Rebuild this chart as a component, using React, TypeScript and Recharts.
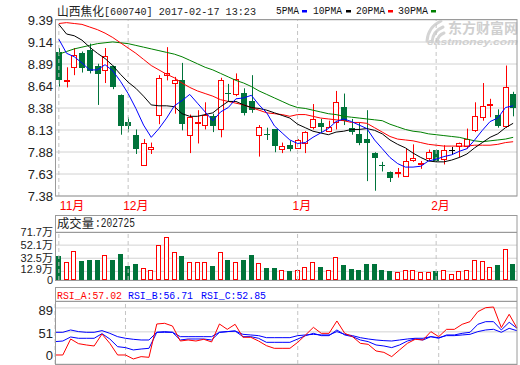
import React from 'react';
import {
  ComposedChart,
  BarChart,
  LineChart,
  Bar,
  Line,
  XAxis,
  YAxis,
  CartesianGrid,
  ReferenceLine,
} from 'recharts';

const RED = '#ff0000';
const GREEN = '#00733a';
const BLUE = '#0000ff';
const GRID = '#d2d2d2';
const FRAME = '#9a9a9a';
const DASH = '#c4c4c4';

// trading days, 2016-11-18 .. 2017-02-17
const dates = [
  '11-18', '11-21', '11-22', '11-23', '11-24', '11-25', '11-28', '11-29', '11-30',
  '12-01', '12-02', '12-05', '12-06', '12-07', '12-08', '12-09', '12-12', '12-13', '12-14', '12-15',
  '12-16', '12-19', '12-20', '12-21', '12-22', '12-23', '12-26', '12-27', '12-28', '12-29', '12-30',
  '01-03', '01-04', '01-05', '01-06', '01-09', '01-10', '01-11', '01-12', '01-13', '01-16', '01-17',
  '01-18', '01-19', '01-20', '01-23', '01-24', '01-25', '01-26',
  '02-03', '02-06', '02-07', '02-08', '02-09', '02-10', '02-13', '02-14', '02-15', '02-16', '02-17',
];

const open = [
  9.02, 8.69, 8.85, 9.01, 9.05, 8.87, 8.82, 8.86, 8.53, 8.22,
  8.08, 7.73, 7.92, 8.31, 8.76, 8.67, 8.70, 8.08, 8.22, 8.19,
  8.29, 8.14, 8.56, 8.55, 8.56, 8.47, 8.08, 8.09, 8.14, 7.92,
  7.96, 7.93, 7.98, 8.17, 8.21, 8.12, 8.23, 8.40, 8.16, 8.09,
  8.03, 7.87, 7.73, 7.65, 7.64, 7.61, 7.79, 7.75, 7.81, 7.90,
  7.80, 7.91, 7.95, 7.95, 8.13, 8.28, 8.42, 8.31, 8.18, 8.55,
];
const close = [
  8.71, 8.71, 8.99, 8.84, 8.81, 8.77, 8.98, 8.63, 8.18, 8.18,
  7.92, 7.98, 7.94, 8.73, 8.78, 8.70, 8.20, 8.28, 8.23, 8.31,
  8.18, 8.70, 8.54, 8.72, 8.33, 8.36, 8.17, 8.08, 7.95, 7.95,
  7.92, 8.02, 8.11, 8.26, 8.17, 8.17, 8.45, 8.24, 8.11, 7.98,
  7.98, 7.81, 7.72, 7.59, 7.65, 7.78, 7.81, 7.76, 7.88, 7.78,
  7.90, 7.91, 7.99, 8.03, 8.29, 8.41, 8.43, 8.18, 8.63, 8.38,
];
const high = [
  9.07, 8.85, 9.07, 9.03, 9.12, 8.89, 9.07, 8.87, 8.54, 8.28,
  8.14, 8.03, 7.99, 8.76, 9.08, 8.74, 8.90, 8.31, 8.36, 8.45,
  8.32, 8.73, 8.66, 8.78, 8.61, 8.76, 8.19, 8.16, 8.14, 7.99,
  8.01, 8.03, 8.12, 8.43, 8.26, 8.24, 8.58, 8.55, 8.26, 8.22,
  8.36, 7.88, 7.77, 7.66, 7.70, 7.92, 7.97, 7.78, 7.91, 7.91,
  7.96, 7.94, 7.99, 8.15, 8.45, 8.67, 8.49, 8.37, 8.87, 8.57,
];
const low = [
  8.63, 8.62, 8.76, 8.79, 8.78, 8.42, 8.67, 8.60, 8.08, 8.11,
  7.86, 7.73, 7.86, 8.20, 8.70, 8.32, 8.13, 7.87, 7.98, 8.14,
  8.11, 8.05, 8.46, 8.52, 8.30, 8.33, 7.83, 8.02, 7.88, 7.87,
  7.89, 7.92, 7.87, 8.14, 8.11, 8.12, 8.14, 8.19, 8.08, 7.96,
  7.55, 7.44, 7.66, 7.54, 7.59, 7.61, 7.77, 7.69, 7.78, 7.77,
  7.74, 7.85, 7.82, 7.92, 8.11, 8.24, 8.28, 8.16, 8.16, 8.29,
];

const ma5 = [
  9.17, 9.01, 8.97, 8.90, 8.82, 8.82, 8.88, 8.81, 8.69, 8.55,
  8.38, 8.19, 8.05, 8.15, 8.27, 8.41, 8.47, 8.54, 8.44, 8.34,
  8.24, 8.34, 8.39, 8.49, 8.50, 8.53, 8.42, 8.33, 8.18, 8.10,
  8.02, 7.98, 7.99, 8.05, 8.10, 8.15, 8.23, 8.26, 8.23, 8.19,
  8.15, 8.02, 7.92, 7.82, 7.75, 7.71, 7.71, 7.72, 7.78, 7.80,
  7.83, 7.85, 7.89, 7.92, 8.02, 8.13, 8.23, 8.27, 8.39, 8.41,
];
const ma10 = [
  9.34, 9.23, 9.21, 9.16, 9.08, 9.01, 8.95, 8.87, 8.77, 8.68,
  8.61, 8.52, 8.42, 8.41, 8.41, 8.40, 8.32, 8.29, 8.29, 8.31,
  8.33, 8.40, 8.46, 8.46, 8.42, 8.39, 8.38, 8.36, 8.33, 8.30,
  8.27, 8.20, 8.16, 8.12, 8.10, 8.08, 8.11, 8.12, 8.14, 8.14,
  8.15, 8.13, 8.09, 8.02, 7.97, 7.93, 7.87, 7.82, 7.78, 7.77,
  7.77, 7.79, 7.82, 7.86, 7.93, 7.99, 8.05, 8.09, 8.16, 8.21,
];
const ma20 = [
  9.35, 9.36, 9.35, 9.34, 9.31, 9.28, 9.24, 9.19, 9.13, 9.07,
  9.01, 8.94, 8.87, 8.82, 8.77, 8.73, 8.67, 8.62, 8.58, 8.55,
  8.52, 8.48, 8.46, 8.44, 8.42, 8.39, 8.36, 8.33, 8.32, 8.31,
  8.29, 8.31, 8.31, 8.29, 8.27, 8.26, 8.25, 8.24, 8.22, 8.22,
  8.21, 8.16, 8.11, 8.06, 8.03, 8.02, 8.01, 7.99, 7.97, 7.96,
  7.95, 7.95, 7.95, 7.95, 7.96, 7.96, 7.96, 7.97, 7.99, 8.00,
];
const ma30 = [
  9.00, 9.03, 9.06, 9.08, 9.10, 9.12, 9.13, 9.14, 9.13, 9.12,
  9.10, 9.08, 9.06, 9.04, 9.02, 9.00, 8.97, 8.93, 8.89, 8.85,
  8.82, 8.78, 8.74, 8.70, 8.67, 8.63, 8.58, 8.54, 8.50, 8.46,
  8.42, 8.39, 8.38, 8.36, 8.34, 8.32, 8.31, 8.29, 8.28, 8.27,
  8.26, 8.25, 8.24, 8.20, 8.17, 8.14, 8.12, 8.11, 8.09, 8.08,
  8.07, 8.06, 8.05, 8.03, 8.01, 8.00, 8.01, 8.02, 8.03, 8.05,
];

// volume in 万
const volume = [
  35.6, 27.6, 42.7, 28.1, 29.6, 29.6, 36.7, 29.6, 38.6, 20.6,
  23.6, 18.6, 15.6, 52.2, 63.8, 41.2, 35.6, 27.6, 26.6, 26.6,
  20.6, 41.2, 29.6, 27.6, 29.6, 37.1, 25.1, 17.6, 17.6, 15.6,
  13.1, 14.6, 20.1, 27.6, 19.1, 15.6, 33.7, 22.1, 16.1, 14.6,
  23.6, 23.6, 14.6, 13.1, 12.6, 15.6, 15.6, 11.6, 12.6, 13.1,
  15.6, 9.6, 14.1, 15.6, 30.6, 29.1, 20.1, 22.1, 45.7, 23.6,
];

const rsiA = [
  14.3, 14.3, 39.7, 32.3, 30.2, 28.6, 47.6, 32.8, 14.3, 14.3,
  8.0, 11.7, 10.6, 63.5, 64.6, 60.3, 36.5, 38.1, 36.5, 39.2,
  35.0, 63.5, 55.0, 63.0, 42.4, 42.4, 36.5, 29.1, 24.9, 24.9,
  24.9, 34.4, 46.1, 58.2, 48.7, 48.7, 68.3, 48.7, 43.4, 32.8,
  31.2, 20.7, 18.5, 11.7, 22.3, 32.8, 39.2, 38.1, 51.4, 43.4,
  55.0, 55.0, 63.0, 67.2, 83.1, 89.4, 90.5, 57.7, 78.9, 57.02,
];
const rsiB = [
  35.5, 36.5, 42.9, 40.8, 40.8, 40.8, 48.2, 39.7, 27.5, 26.0,
  22.3, 23.8, 24.9, 50.3, 50.3, 50.3, 38.1, 39.7, 39.7, 39.7,
  38.1, 50.3, 51.4, 52.4, 43.4, 43.4, 40.8, 34.4, 34.4, 34.4,
  34.4, 39.7, 45.0, 48.7, 45.0, 45.0, 54.0, 46.1, 43.4, 38.1,
  35.5, 30.2, 28.6, 26.0, 30.2, 36.5, 39.7, 38.1, 43.4, 40.8,
  46.1, 46.1, 48.7, 50.3, 63.0, 67.2, 67.2, 54.0, 66.2, 56.71,
];
const rsiC = [
  50.3, 50.3, 54.0, 51.4, 50.3, 50.3, 53.0, 48.7, 43.4, 40.8,
  39.2, 38.1, 38.1, 50.3, 51.4, 50.3, 43.4, 43.4, 43.4, 43.4,
  43.4, 50.3, 51.4, 52.4, 47.1, 46.1, 45.0, 41.8, 41.8, 41.8,
  41.8, 45.0, 46.1, 47.1, 46.1, 46.1, 51.4, 47.1, 45.0, 41.8,
  39.7, 38.1, 37.1, 36.5, 38.1, 39.7, 40.8, 40.8, 43.4, 41.8,
  45.0, 45.0, 46.1, 47.1, 51.4, 54.0, 55.1, 50.3, 56.6, 52.85,
];

const monthStarts = ['11-18', '12-01', '01-03', '02-03'];
const monthLabels = ['11月', '12月', '1月', '2月'];

const priceTickLabels = ['7.38', '7.63', '7.88', '8.13', '8.38', '8.64', '8.89', '9.14', '9.39'];
const priceMin = 7.38;
const priceMax = 9.39;
const priceStep = (priceMax - priceMin) / (priceTickLabels.length - 1);
const priceTicks = priceTickLabels.map((_, i) => priceMin + i * priceStep);

const volTicks = [0, 12.9, 32.5, 52.1, 71.7];
const rsiTicks = [0, 51, 89];

const rows = dates.map((d, i) => ({
  d,
  o: open[i],
  h: high[i],
  l: low[i],
  c: close[i],
  ma5: ma5[i],
  ma10: ma10[i],
  ma20: ma20[i],
  ma30: ma30[i],
  v: volume[i],
  ra: rsiA[i],
  rb: rsiB[i],
  rc: rsiC[i],
}));

const Candle = (props: any) => {
  const { x, y, width, height, payload } = props;
  if (x == null || y == null || !payload) return null;
  const { o, h, l, c } = payload;
  const top = Math.min(y, y + height);
  const span = Math.abs(height);
  const py = (v: number) => (h === l ? top : top + ((h - v) / (h - l)) * span);
  const cx = Math.round(x + width / 2);
  const bt = Math.round(py(Math.max(o, c)));
  const bb = Math.round(py(Math.min(o, c)));
  const yh = py(h);
  const yl = py(l);
  const wx = cx + 0.5;
  if (c > o) {
    return (
      <g>
        <line x1={wx} x2={wx} y1={yh} y2={bt} stroke={RED} />
        <line x1={wx} x2={wx} y1={bb} y2={yl} stroke={RED} />
        <rect x={cx - 2.5} y={bt + 0.5} width={5} height={Math.max(bb - bt, 1)} fill="#fff" stroke={RED} />
      </g>
    );
  }
  if (c < o) {
    return (
      <g>
        <line x1={wx} x2={wx} y1={yh} y2={yl} stroke={GREEN} />
        <rect x={cx - 3} y={bt} width={6} height={Math.max(bb - bt, 1)} fill={GREEN} />
      </g>
    );
  }
  return (
    <g>
      <line x1={wx} x2={wx} y1={yh} y2={yl} stroke="#000" />
      <line x1={cx - 3} x2={cx + 3} y1={bt + 0.5} y2={bt + 0.5} stroke="#000" />
    </g>
  );
};

const VolBar = (props: any) => {
  const { x, y, width, height, payload } = props;
  if (x == null || y == null || !payload) return null;
  const left = Math.round(x);
  const t = Math.round(Math.min(y, y + height));
  const b = Math.round(Math.max(y, y + height));
  if (payload.c >= payload.o) {
    return <rect x={left + 0.5} y={t + 0.5} width={width - 1} height={Math.max(b - t - 1, 1)} fill="#fff" stroke={RED} />;
  }
  return <rect x={left} y={t} width={width} height={b - t} fill={GREEN} />;
};

const MonthTick = (props: any) => {
  const { x, y, payload } = props;
  const idx = monthStarts.indexOf(payload.value);
  if (idx < 0) return null;
  return (
    <text
      x={idx === 0 ? x + 1 : x - 5}
      y={y + 14}
      fill={RED}
      fontSize={12}
      fontFamily="Liberation Sans, Noto Sans CJK SC, sans-serif"
      textAnchor="start"
    >
      {monthLabels[idx]}
    </text>
  );
};

const VolTick = (props: any) => {
  const { x, y, payload } = props;
  const v = payload.value;
  const shift = v === 12.9 ? -2 : v === 32.5 ? -0.5 : 0;
  return (
    <text
      x={x}
      y={y + shift}
      dy="0.355em"
      fill="#222"
      fontSize={11}
      fontFamily="Liberation Sans, Noto Sans CJK SC, sans-serif"
      textAnchor="end"
    >
      {v === 0 ? '0' : `${v}万`}
    </text>
  );
};

const RsiTick = (props: any) => {
  const { x, y, payload } = props;
  return (
    <text
      x={x}
      y={y + (payload.value === 0 ? -9 : 2)}
      dy="0.355em"
      fill="#222"
      fontSize={13}
      fontFamily="Liberation Sans, Arial, sans-serif"
      textAnchor="end"
    >
      {payload.value}
    </text>
  );
};

const axisFont = { fontSize: 13, fill: '#222', fontFamily: 'Liberation Sans, Arial, sans-serif' };
const monoFont = 'Liberation Mono, DejaVu Sans Mono, monospace';
const cjkFont = 'Noto Sans CJK SC, sans-serif';

const monthLines = monthStarts.map((m) => (
  <ReferenceLine key={m} x={m} stroke={DASH} strokeDasharray="4 3" />
));

const App = () => {
  return (
    <div style={{ position: 'absolute', left: 0, top: 0, width: 520, height: 365, background: '#fff', overflow: 'hidden' }}>
      {/* watermark */}
      <svg width={520} height={365} style={{ position: 'absolute', left: 0, top: 0 }}>
        <g stroke="#d4d4d4" strokeWidth={3} fill="none" strokeLinecap="round">
          <path d="M427 41 Q428 27 441 21" />
          <path d="M432 42 Q433 31 443 27" />
          <path d="M437 42 Q438 35 444 33" />
        </g>
        <text x={448} y={33} fontSize={14} fontWeight="bold" fill="#cfcfcf" fontFamily={cjkFont} textLength={70} lengthAdjust="spacingAndGlyphs">
          东方财富网
        </text>
        <text x={427} y={45} fontSize={9} fontWeight="bold" fontStyle="italic" fill="#cfcfcf" fontFamily="Liberation Sans, sans-serif" textLength={91} lengthAdjust="spacingAndGlyphs">
          eastmoney.com
        </text>
      </svg>

      {/* price */}
      <div style={{ position: 'absolute', left: 0, top: 0 }}>
        <ComposedChart width={520} height={215} data={rows} margin={{ top: 20, right: 3, bottom: 0, left: 0 }} barCategoryGap={0}>
          <CartesianGrid stroke={GRID} vertical={false} />
          <XAxis dataKey="d" ticks={monthStarts} interval={0} tick={MonthTick} tickLine={false} axisLine={false} height={19} tickSize={0} tickMargin={0} />
          <YAxis
            domain={[priceMin, priceMax]}
            ticks={priceTicks}
            interval={0}
            allowDataOverflow
            width={55}
            tickLine={false}
            axisLine={false}
            tickSize={0}
            tickMargin={2}
            tick={axisFont}
            tickFormatter={(v: number) => priceTickLabels[Math.round((v - priceMin) / priceStep)]}
          />
          {monthLines}
          <Bar dataKey={(r: any) => [r.l, r.h]} barSize={6} shape={Candle} isAnimationActive={false} />
          <Line dataKey="ma30" stroke="#008000" strokeWidth={1} dot={false} isAnimationActive={false} />
          <Line dataKey="ma20" stroke={RED} strokeWidth={1} dot={false} isAnimationActive={false} />
          <Line dataKey="ma10" stroke="#000" strokeWidth={1} dot={false} isAnimationActive={false} />
          <Line dataKey="ma5" stroke={BLUE} strokeWidth={1} dot={false} isAnimationActive={false} />
        </ComposedChart>
      </div>

      {/* volume */}
      <div style={{ position: 'absolute', left: 0, top: 215 }}>
        <BarChart width={520} height={72} data={rows} margin={{ top: 17, right: 3, bottom: 7, left: 0 }} barCategoryGap={0}>
          <CartesianGrid stroke={GRID} vertical={false} />
          <XAxis dataKey="d" hide />
          <YAxis domain={[0, 71.7]} ticks={volTicks} interval={0} width={55} tickLine={false} axisLine={false} tickSize={0} tickMargin={2} tick={VolTick} />
          {monthLines}
          <Bar dataKey="v" barSize={5} shape={VolBar} isAnimationActive={false} />
        </BarChart>
      </div>

      {/* RSI */}
      <div style={{ position: 'absolute', left: 0, top: 287 }}>
        <LineChart width={520} height={78} data={rows} margin={{ top: 14, right: 3, bottom: 1, left: 0 }}>
          <CartesianGrid stroke={GRID} vertical={false} />
          <XAxis dataKey="d" hide />
          <YAxis domain={[0, 100]} ticks={rsiTicks} interval={0} width={55} tickLine={false} axisLine={false} tickSize={0} tickMargin={2} tick={RsiTick} />
          {monthLines}
          <Line dataKey="rc" stroke={BLUE} strokeWidth={1} dot={false} isAnimationActive={false} />
          <Line dataKey="rb" stroke={BLUE} strokeWidth={1} dot={false} isAnimationActive={false} />
          <Line dataKey="ra" stroke={RED} strokeWidth={1} dot={false} isAnimationActive={false} />
        </LineChart>
      </div>

      {/* frames, titles, legends */}
      <svg width={520} height={365} style={{ position: 'absolute', left: 0, top: 0, pointerEvents: 'none' }}>
        <g fill="none" stroke={FRAME}>
          <rect x={55.5} y={19.5} width={461.5} height={176.5} />
          <rect x={55.5} y={215.5} width={461.5} height={65} />
          <line x1={55.5} x2={517} y1={232.5} y2={232.5} />
          <rect x={55.5} y={287.5} width={461.5} height={77} />
          <line x1={55.5} x2={517} y1={301.5} y2={301.5} />
        </g>

        <text x={57} y={15.5} fontSize={12} fill="#222" fontFamily={cjkFont} textLength={47} lengthAdjust="spacingAndGlyphs">
          山西焦化
        </text>
        <text x={104} y={15} fontSize={11} fill="#222" fontFamily={monoFont} textLength={152} lengthAdjust="spacingAndGlyphs">
          [600740] 2017-02-17 13:23
        </text>

        <g fontSize={10} fill="#111" fontFamily={monoFont}>
          <text x={276} y={14} textLength={23} lengthAdjust="spacingAndGlyphs">5PMA</text>
          <text x={313} y={14} textLength={29} lengthAdjust="spacingAndGlyphs">10PMA</text>
          <text x={356} y={14} textLength={29} lengthAdjust="spacingAndGlyphs">20PMA</text>
          <text x={398} y={14} textLength={30} lengthAdjust="spacingAndGlyphs">30PMA</text>
        </g>
        <rect x={302} y={10} width={5} height={2.5} fill={BLUE} />
        <rect x={346} y={10} width={5} height={2.5} fill="#000" />
        <rect x={388} y={10} width={5} height={2.5} fill={RED} />
        <rect x={431} y={10} width={5} height={2.5} fill="#008000" />

        <text x={57} y={227.5} fontSize={12} fill="#222" fontFamily={cjkFont} textLength={37} lengthAdjust="spacingAndGlyphs">
          成交量
        </text>
        <text x={95} y={227} fontSize={12} fill="#222" fontFamily={monoFont} textLength={40} lengthAdjust="spacingAndGlyphs">
          :202725
        </text>

        <g fontSize={11} fontFamily={monoFont}>
          <text x={57} y={298.5} fill={RED} textLength={65} lengthAdjust="spacingAndGlyphs">RSI_A:57.02</text>
          <text x={128} y={298.5} fill={BLUE} textLength={65} lengthAdjust="spacingAndGlyphs">RSI_B:56.71</text>
          <text x={201} y={298.5} fill={BLUE} textLength={65} lengthAdjust="spacingAndGlyphs">RSI_C:52.85</text>
        </g>
      </svg>
    </div>
  );
};

export default App;
